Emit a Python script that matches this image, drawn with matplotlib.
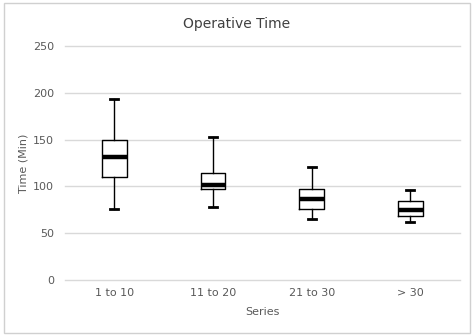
import matplotlib.pyplot as plt
from matplotlib.patches import Rectangle

# box plot summary values
categories = ["1 to 10", "11 to 20", "21 to 30", "> 30"]
whisker_low = [76, 78, 65.5, 62.3]
q1 = [110, 97.2, 75.5, 68.4]
median = [131, 101.5, 86.5, 74.8]
q3 = [149.6, 114.3, 97.2, 84]
whisker_high = [193.4, 152.8, 121, 95.8]

stats = []
for i, name in enumerate(categories):
    stats.append({
        "label": name,
        "whislo": whisker_low[i],
        "q1": q1[i],
        "med": median[i],
        "q3": q3[i],
        "whishi": whisker_high[i],
        "fliers": [],
    })

fig = plt.figure(figsize=(4.74, 3.36), dpi=100)
ax = fig.add_axes([0.137, 0.1667, 0.833, 0.6964])

positions = list(range(len(categories)))
ax.bxp(stats, positions=positions, widths=0.25, showfliers=False,
       boxprops=dict(color="black", linewidth=1.0),
       whiskerprops=dict(color="black", linewidth=1.0),
       capprops=dict(color="black", linewidth=2.0),
       medianprops=dict(color="black", linewidth=3.2),
       capwidths=0.08, zorder=3)

ax.set_xlim(-0.5, len(categories) - 0.5)
ax.set_ylim(0, 250)
ax.set_yticks([0, 50, 100, 150, 200, 250])
ax.yaxis.grid(True, color="#d9d9d9", linewidth=1.0)
for gl in ax.get_ygridlines():
    gl.set_clip_on(False)
ax.set_axisbelow(True)
for s in ax.spines.values():
    s.set_visible(False)
ax.tick_params(axis="both", length=0, colors="#595959", labelsize=8)
ax.tick_params(axis="y", pad=8)
ax.tick_params(axis="x", pad=6)

ax.set_ylabel("Time (Min)", color="#595959", fontsize=8, labelpad=3)
ax.set_xlabel("Series", color="#595959", fontsize=8, labelpad=6)
fig.text(0.5, 0.93, "Operative Time", ha="center", va="center",
         color="#404040", fontsize=10)

# light outer chart frame
fig.patches.append(Rectangle((0.008, 0.01), 0.984, 0.98, transform=fig.transFigure,
                             fill=False, edgecolor="#d0d0d0", linewidth=1.0))

fig.savefig("out.png", dpi=100)
